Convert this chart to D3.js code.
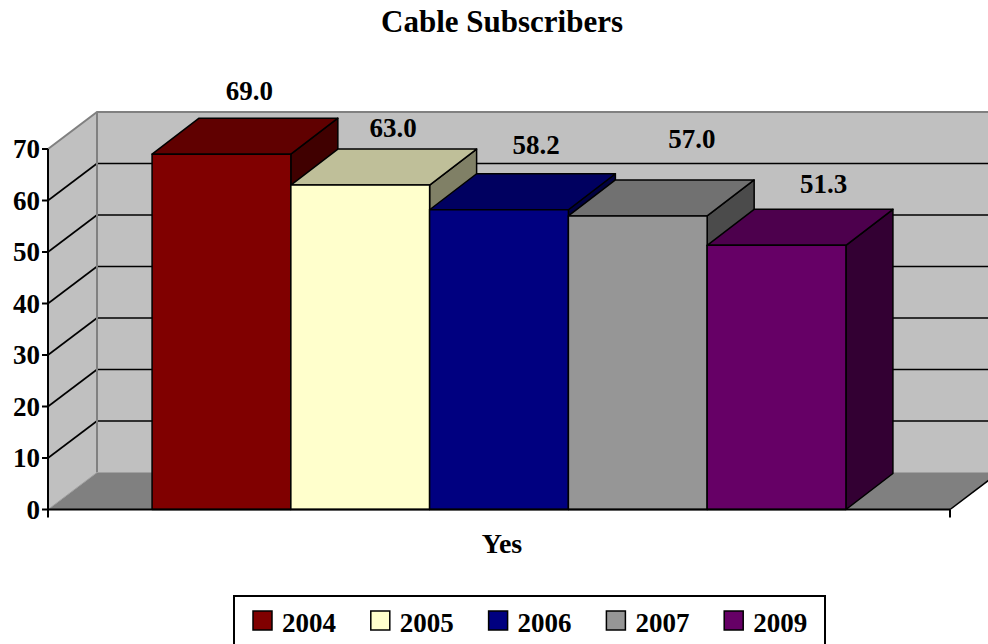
<!DOCTYPE html>
<meta charset="utf-8">
<style>
  body { margin: 0; background: #fff; }
  text { font-family: "Liberation Serif", "Times New Roman", serif; font-weight: bold; fill: #000; }
</style>
<svg width="988" height="644"></svg>
<script src="https://cdn.jsdelivr.net/npm/d3@7/dist/d3.min.js"></script>
<script>
  // data
  var categories = ["Yes"];
  var series = ["2004", "2005", "2006", "2007", "2009"];
  var values = [69.0, 63.0, 58.2, 57.0, 51.3];
  var colors = ["#800000", "#FFFFCC", "#000080", "#969696", "#660066"];
  var yTicks = [0, 10, 20, 30, 40, 50, 60, 70];
  // label nudges (px) relative to the back-top centre of each bar
  var labelNudgeX = [-19, -14, -10, 7, 0];
  var labelNudgeY = [-18, -12, -20, -32, -16];

  var svg = d3.select("svg"),
    width = +svg.attr("width"),
    height = +svg.attr("height");

  var plotL = 48, plotR = 950, plotBase = 509.5, plotTop = 149;
  var wall = {dx: 49, dy: -37};   // depth of the plot box
  var bar = {dx: 47, dy: -36};    // depth of a column

  var y = d3.scaleLinear().domain([0, 70]).range([plotBase, plotTop]);
  var x0 = d3.scaleBand().domain(categories).range([plotL, plotR]);
  var x1 = d3.scaleBand().domain(series)
    .range([x0(categories[0]), x0(categories[0]) + x0.bandwidth()])
    .paddingInner(0).paddingOuter(0.75);

  function shade(c, k) {
    var r = d3.rgb(c);
    return d3.rgb(r.r * k, r.g * k, r.b * k).formatHex();
  }
  function pts(a) { return a.map(function(p) { return p.join(","); }).join(" "); }

  // title
  svg.append("text")
    .attr("x", 502).attr("y", 32)
    .attr("text-anchor", "middle")
    .style("font-size", "31px")
    .text("Cable Subscribers");

  var g = svg.append("g");
  var ymax = y(70), base = plotBase;
  var farR = plotR + wall.dx + 60;

  // back wall
  g.append("polygon")
    .attr("points", pts([[plotL + wall.dx, base + wall.dy], [farR, base + wall.dy],
      [farR, ymax + wall.dy], [plotL + wall.dx, ymax + wall.dy]]))
    .attr("fill", "#c0c0c0");
  // side wall
  g.append("polygon")
    .attr("points", pts([[plotL, base], [plotL + wall.dx, base + wall.dy],
      [plotL + wall.dx, ymax + wall.dy], [plotL, ymax]]))
    .attr("fill", "#c0c0c0");

  // gridlines on back and side walls
  var grid = yTicks.filter(function(v) { return v > 0 && v < 70; });
  g.selectAll(".gback").data(grid).enter().append("line")
    .attr("x1", plotL + wall.dx).attr("x2", farR)
    .attr("y1", function(d) { return y(d) + wall.dy; })
    .attr("y2", function(d) { return y(d) + wall.dy; })
    .attr("stroke", "#000").attr("stroke-width", 1.6);
  g.selectAll(".gside").data(grid).enter().append("line")
    .attr("x1", plotL).attr("x2", plotL + wall.dx)
    .attr("y1", function(d) { return y(d); })
    .attr("y2", function(d) { return y(d) + wall.dy; })
    .attr("stroke", "#000").attr("stroke-width", 1.6);

  // wall edges (grey)
  g.append("polyline")
    .attr("points", pts([[plotL, ymax], [plotL + wall.dx, ymax + wall.dy], [farR, ymax + wall.dy]]))
    .attr("fill", "none").attr("stroke", "#808080").attr("stroke-width", 2);
  g.append("line")
    .attr("x1", plotL + wall.dx).attr("x2", plotL + wall.dx)
    .attr("y1", ymax + wall.dy).attr("y2", base + wall.dy)
    .attr("stroke", "#808080").attr("stroke-width", 2);

  // floor
  g.append("polygon")
    .attr("points", pts([[plotL, base], [plotR, base], [plotR + wall.dx, base + wall.dy], [plotL + wall.dx, base + wall.dy]]))
    .attr("fill", "#808080").attr("stroke", "#a0a0a0").attr("stroke-width", 1);
  g.append("line")
    .attr("x1", plotR).attr("y1", base)
    .attr("x2", plotR + wall.dx).attr("y2", base + wall.dy)
    .attr("stroke", "#000").attr("stroke-width", 1.5);

  // columns, left to right so later ones cover the side faces
  series.forEach(function(s, i) {
    var xl = x1(s), xr = xl + x1.bandwidth(), yt = y(values[i]), c = colors[i];
    var b = g.append("g").attr("stroke", "#000").attr("stroke-width", 1.5).attr("stroke-linejoin", "round");
    b.append("polygon") // side
      .attr("points", pts([[xr, base], [xr + bar.dx, base + bar.dy], [xr + bar.dx, yt + bar.dy], [xr, yt]]))
      .attr("fill", shade(c, 0.5));
    b.append("polygon") // top
      .attr("points", pts([[xl, yt], [xr, yt], [xr + bar.dx, yt + bar.dy], [xl + bar.dx, yt + bar.dy]]))
      .attr("fill", shade(c, 0.75));
    b.append("rect") // front
      .attr("x", xl).attr("y", yt)
      .attr("width", x1.bandwidth()).attr("height", base - yt)
      .attr("fill", c);
  });

  // value labels
  svg.selectAll(".lbl").data(values).enter().append("text")
    .attr("x", function(d, i) { return x1(series[i]) + x1.bandwidth() / 2 + bar.dx + labelNudgeX[i]; })
    .attr("y", function(d, i) { return y(d) + bar.dy + labelNudgeY[i]; })
    .attr("text-anchor", "middle")
    .style("font-size", "27px")
    .text(function(d) { return d3.format(".1f")(d); });

  // value axis
  svg.append("line")
    .attr("x1", plotL).attr("x2", plotL).attr("y1", ymax).attr("y2", base + 1)
    .attr("stroke", "#000").attr("stroke-width", 2);
  svg.selectAll(".ytick").data(yTicks).enter().append("line")
    .attr("x1", plotL - 6).attr("x2", plotL)
    .attr("y1", function(d) { return y(d); }).attr("y2", function(d) { return y(d); })
    .attr("stroke", "#000").attr("stroke-width", 2);
  svg.selectAll(".ylab").data(yTicks).enter().append("text")
    .attr("x", plotL - 8)
    .attr("y", function(d) { return y(d); })
    .attr("dy", "0.34em")
    .attr("text-anchor", "end")
    .style("font-size", "27px")
    .text(function(d) { return d; });

  // category axis
  svg.append("line")
    .attr("x1", plotL).attr("x2", plotR).attr("y1", base).attr("y2", base)
    .attr("stroke", "#000").attr("stroke-width", 2);
  svg.selectAll(".xtick").data([plotL, plotR]).enter().append("line")
    .attr("x1", function(d) { return d; }).attr("x2", function(d) { return d; })
    .attr("y1", base).attr("y2", base + 8)
    .attr("stroke", "#000").attr("stroke-width", 2);
  svg.append("text")
    .attr("x", x0(categories[0]) + x0.bandwidth() / 2 + 3).attr("y", 553)
    .attr("text-anchor", "middle")
    .style("font-size", "28px")
    .text(categories[0]);

  // legend
  var leg = svg.append("g");
  leg.append("rect")
    .attr("x", 234).attr("y", 596).attr("width", 591).attr("height", 70)
    .attr("fill", "#fff").attr("stroke", "#000").attr("stroke-width", 2);
  var item = leg.selectAll(".item").data(series).enter().append("g")
    .attr("transform", function(d, i) { return "translate(" + (253 + i * 117.8) + ",611)"; });
  item.append("rect")
    .attr("width", 19).attr("height", 19)
    .attr("fill", function(d, i) { return colors[i]; })
    .attr("stroke", "#000").attr("stroke-width", 1.5);
  item.append("text")
    .attr("x", 29).attr("y", 21)
    .style("font-size", "27px")
    .text(function(d) { return d; });
</script>
